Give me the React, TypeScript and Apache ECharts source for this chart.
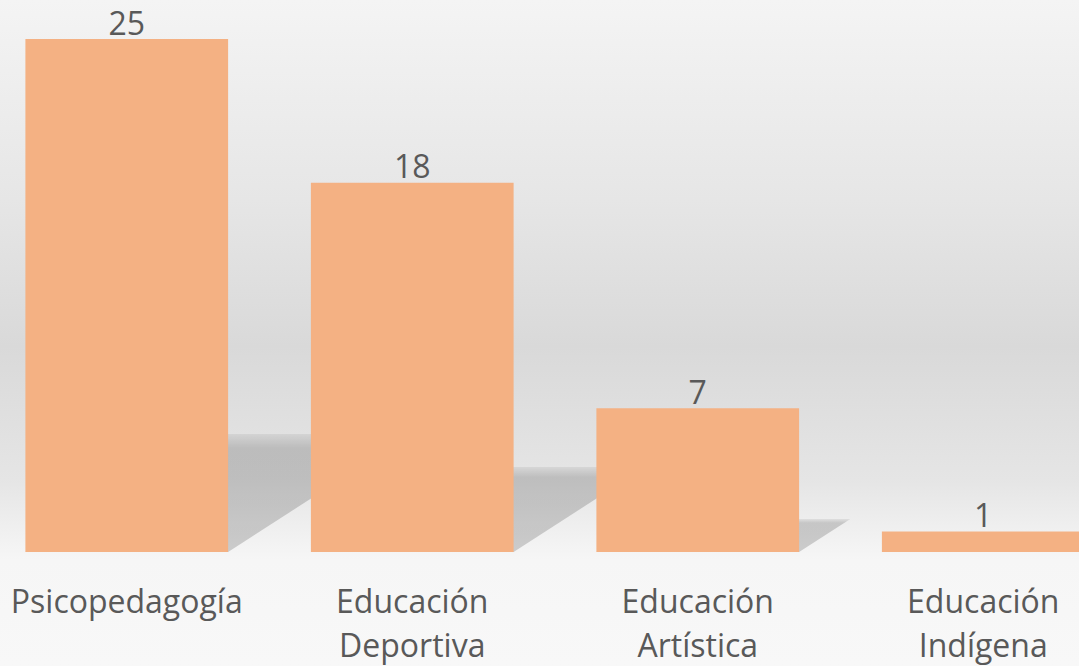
import React, { useEffect, useRef } from "react";
import * as echarts from "echarts";

const categories = ["Psicopedagogía", "Educación\nDeportiva", "Educación\nArtística", "Educación\nIndígena"];
const values = [25, 18, 7, 1];

const BAR_COLOR = "#F4B183";
const TEXT_COLOR = "#595959";
const FONT = "'Open Sans', 'Noto Sans', sans-serif";

export default function App() {
  const ref = useRef<HTMLDivElement>(null);
  useEffect(() => {
    if (!ref.current) return;
    const chart = echarts.init(ref.current, undefined, { renderer: "svg" });
    const shadowData = values.map((v, i) => [i, v]);
    chart.setOption({
      animation: false,
      backgroundColor: new echarts.graphic.LinearGradient(0, 0, 0, 1, [
        { offset: 0, color: "#f4f4f4" },
        { offset: 0.3, color: "#e6e6e6" },
        { offset: 0.52, color: "#d9d9d9" },
        { offset: 0.72, color: "#e5e5e5" },
        { offset: 0.84, color: "#f6f6f6" },
        { offset: 1, color: "#f8f8f8" },
      ]),
      grid: { left: 0, right: 0, top: 39, bottom: 109, containLabel: false },
      xAxis: {
        type: "category",
        data: categories,
        axisLine: { show: false },
        axisTick: { show: false },
        splitLine: { show: false },
        axisLabel: {
          color: TEXT_COLOR,
          fontSize: 32,
          lineHeight: 44,
          fontFamily: FONT,
          margin: 26,
          interval: 0,
        },
      },
      yAxis: {
        type: "value",
        min: 0,
        max: 25,
        show: false,
        splitLine: { show: false },
      },
      series: [
        {
          type: "custom",
          z: 1,
          data: shadowData,
          encode: { x: 0, y: 1 },
          renderItem: (params: any, api: any) => {
            const idx = api.value(0);
            const v = api.value(1);
            const base = api.coord([idx, 0]);
            const top = api.coord([idx, v]);
            const band = api.size([1, 0])[0];
            const w = band * 0.71;
            const x0 = base[0] - w / 2;
            const x1 = base[0] + w / 2;
            const h = base[1] - top[1];
            const dy = h * 0.23;
            const dx = dy * 1.55;
            return {
              type: "polygon",
              shape: {
                points: [
                  [x0, base[1]],
                  [x1, base[1]],
                  [x1 + dx, base[1] - dy],
                  [x0 + dx, base[1] - dy],
                ],
              },
              style: {
                fill: new echarts.graphic.LinearGradient(0, 0, 0, 1, [
                  { offset: 0, color: "rgba(0,0,0,0.06)" },
                  { offset: 0.12, color: "rgba(0,0,0,0.17)" },
                  { offset: 1, color: "rgba(0,0,0,0.17)" },
                ]),
              },
            };
          },
        },
        {
          type: "bar",
          z: 2,
          data: values,
          barWidth: "71%",
          itemStyle: { color: BAR_COLOR },
          label: {
            show: true,
            position: "top",
            distance: 1,
            color: TEXT_COLOR,
            fontSize: 32,
            fontFamily: FONT,
          },
        },
      ],
    });
    return () => chart.dispose();
  }, []);
  return (
    <div
      style={{
        width: 1079,
        height: 666,
        position: "fixed",
        left: 0,
        top: 0,
        overflow: "hidden",
      }}
    >
      <div
        ref={ref}
        style={{ width: 1142, height: 666, position: "absolute", left: -16, top: 0 }}
      />
    </div>
  );
}
